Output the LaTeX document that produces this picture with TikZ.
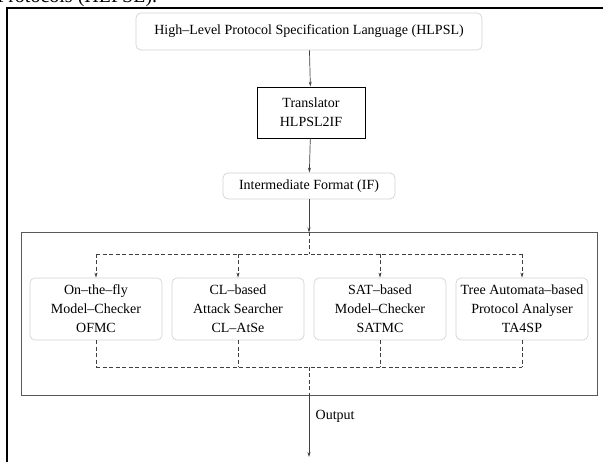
\documentclass[tikz,border=0pt]{standalone}
\usepackage{fontspec}
\setmainfont{Liberation Serif}
\usepackage{tikz}
\usetikzlibrary{arrows.meta, positioning}

\tikzset{
    softbox/.style={draw=gray!35, line width=0.7pt, rounded corners=5pt, align=center, inner sep=2pt},
    toolbox/.style={softbox, minimum width=132pt, minimum height=62pt},
    flow/.style={draw=black!75, line width=0.7pt, -{Stealth[length=5pt, width=3pt]}},
    dflow/.style={draw=black!75, line width=0.7pt, dash pattern=on 4pt off 2.5pt}
}

\begin{document}
\begin{tikzpicture}[x=1pt, y=-1pt, font=\fontsize{14}{19}\selectfont]

    \useasboundingbox (0,0) rectangle (603,462);

    % page border and the clipped caption above it
    \node (caption) [anchor=base west, inner sep=0pt, font=\fontsize{20}{24}\selectfont] at (-3,3) {Protocols (HLPSL).};
    \draw[line width=2pt] (603,8) -- (7,8) -- (7,463);

    % Nodes for the specification chain
    \node (hlpsl) [softbox, minimum width=346pt, minimum height=37pt] at (309,31.5) {High--Level Protocol Specification Language (HLPSL)};
    \node (translator) [draw, line width=0.8pt, align=center, minimum width=108pt, minimum height=51pt] at (311,112.5) {Translator\\HLPSL2IF};
    \node (ifmt) [softbox, minimum width=172pt, minimum height=26pt] at (309,186) {Intermediate Format (IF)};

    % Back-end box and the four tools inside it
    \node (backend) [draw=black!65, line width=1pt, minimum width=576pt, minimum height=163pt] at (309,314.5) {};
    \node (ofmc) [toolbox] at (96,309) {On--the--fly\\Model--Checker\\OFMC};
    \node (clatse) [toolbox] at (238,309) {CL--based\\Attack Searcher\\CL--AtSe};
    \node (satmc) [toolbox] at (380,309) {SAT--based\\Model--Checker\\SATMC};
    \node (tafsp) [toolbox] at (522,309) {Tree Automata--based\\Protocol Analyser\\TA4SP};

    \coordinate (split) at (309,254);
    \coordinate (merge) at (309,367);
    \coordinate (out) at (309,457);

    % Arrows along the chain
    \draw[flow] (hlpsl) -- (translator);
    \draw[flow] (translator) -- (ifmt);
    \draw[flow] (ifmt) -- (backend.north);

    % Dashed fan-out and fan-in
    \draw[dflow] (backend.north) -- (split);
    \draw[dflow] (ofmc.north |- split) -- (tafsp.north |- split);
    \draw[dflow] (ofmc.south |- merge) -- (tafsp.south |- merge);
    \foreach \tool in {ofmc, clatse, satmc, tafsp} {
        \draw[dflow, -{Stealth[length=5pt, width=3pt]}] (\tool.north |- split) -- (\tool.north);
        \draw[dflow] (\tool.south) -- (\tool.south |- merge);
    }
    \draw[dflow] (merge) -- (backend.south);

    % Output
    \draw[flow] (backend.south) -- (out) node (outlabel) [pos=0.33, right=3pt] {Output};

\end{tikzpicture}
\end{document}
